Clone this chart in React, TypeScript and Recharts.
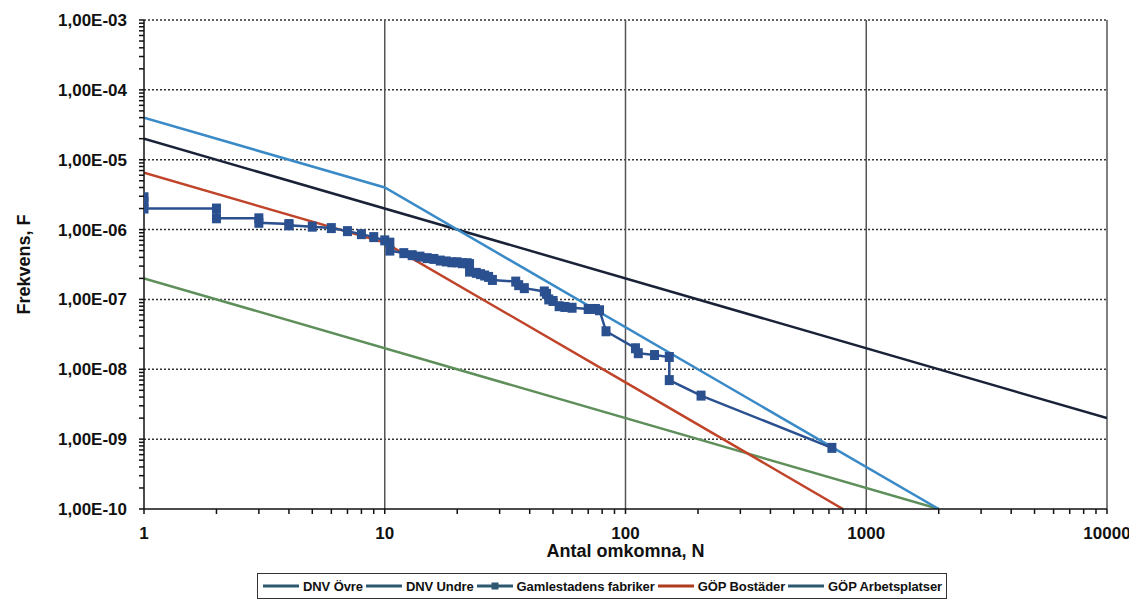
import { LineChart, Line, XAxis, YAxis, ReferenceLine } from "recharts"

// F-N curves (log-log)
const dnvOvreN = [1, 10000]
const dnvOvreF = [2e-5, 2e-9]

const dnvUndreN = [1, 2000]
const dnvUndreF = [2e-7, 1e-10]

const gopBostaderN = [1, 10, 100, 800]
const gopBostaderF = [6.5e-6, 6.5e-7, 6.5e-9, 1e-10]

const gopArbetsN = [1, 10, 2000]
const gopArbetsF = [4e-5, 4e-6, 1e-10]

const gamlestadenN = [
  1, 1, 1, 2, 2, 3, 3, 4, 4, 5, 6, 7, 8, 9, 10, 10.5, 10.5, 12, 13, 14, 15, 16, 17, 18, 19, 20, 21, 22,
  22.5, 22.5, 24, 25, 26, 27, 28, 35, 36, 38, 46, 47, 48, 50, 53, 56, 60, 70, 75, 78, 83, 110, 113, 132,
  152, 152, 206, 720,
]
const gamlestadenF = [
  2.9e-6, 2.5e-6, 2.0e-6, 2.0e-6, 1.45e-6, 1.45e-6, 1.25e-6, 1.2e-6, 1.15e-6, 1.1e-6, 1.05e-6, 9.5e-7,
  8.6e-7, 7.8e-7, 7e-7, 6.5e-7, 5e-7, 4.6e-7, 4.3e-7, 4.1e-7, 3.9e-7, 3.8e-7, 3.6e-7, 3.5e-7, 3.4e-7,
  3.4e-7, 3.3e-7, 3.3e-7, 3.2e-7, 2.5e-7, 2.4e-7, 2.3e-7, 2.2e-7, 2.1e-7, 1.9e-7, 1.8e-7, 1.6e-7,
  1.45e-7, 1.3e-7, 1.2e-7, 1.0e-7, 9.5e-8, 8e-8, 7.8e-8, 7.6e-8, 7.3e-8, 7.3e-8, 7e-8, 3.5e-8, 2.0e-8,
  1.7e-8, 1.6e-8, 1.5e-8, 7e-9, 4.2e-9, 7.5e-10,
]

const xDecades = [1, 10, 100, 1000, 10000]
const yDecades = [1e-10, 1e-9, 1e-8, 1e-7, 1e-6, 1e-5, 1e-4, 1e-3]
const minorSteps = [2, 3, 4, 5, 6, 7, 8, 9]

const zip = (n: number[], f: number[]) => n.map((x, i) => ({ x, y: f[i] }))

const withMinors = (dec: number[]) => {
  const out: number[] = []
  dec.forEach((d, i) => {
    out.push(d)
    if (i < dec.length - 1) minorSteps.forEach((m) => out.push(d * m))
  })
  return out
}

const isDecade = (v: number) => Math.abs(Math.log10(v) - Math.round(Math.log10(v))) < 1e-6

const fmtY = (v: number) => {
  const e = Math.round(Math.log10(v))
  const s = String(Math.abs(e)).padStart(2, "0")
  return `1,00E${e < 0 ? "-" : "+"}${s}`
}

const FONT = "'Liberation Sans', Arial, sans-serif"

const XTick = ({ x, y, payload }: any) => {
  if (!isDecade(payload.value)) return null
  return (
    <text x={x} y={y + 23} textAnchor="middle" fontFamily={FONT} fontWeight="bold" fontSize={17} fill="#111">
      {payload.value}
    </text>
  )
}

const YTick = ({ x, y, payload }: any) => {
  if (!isDecade(payload.value)) return null
  return (
    <text x={x - 10} y={y + 6} textAnchor="end" fontFamily={FONT} fontWeight="bold" fontSize={17} fill="#111">
      {fmtY(payload.value)}
    </text>
  )
}

const SquareDot = ({ cx, cy }: any) => {
  if (cx == null || cy == null) return null
  return <rect x={cx - 4.5} y={cy - 5} width={9} height={10} fill="#2a5090" />
}

const legendItems = [
  { name: "DNV Övre", color: "#2d5870", marker: false },
  { name: "DNV Undre", color: "#2d5870", marker: false },
  { name: "Gamlestadens fabriker", color: "#2d5870", marker: true },
  { name: "GÖP Bostäder", color: "#b03a1e", marker: false },
  { name: "GÖP Arbetsplatser", color: "#2d5870", marker: false },
]

export default function App() {
  return (
    <div style={{ position: "relative", width: 1129, height: 594 }}>
      <LineChart width={1129} height={594} margin={{ top: 12, right: 30, bottom: 0, left: 0 }}>
        <XAxis
          dataKey="x"
          type="number"
          scale="log"
          domain={[1, 10000]}
          allowDataOverflow
          ticks={withMinors(xDecades)}
          interval={0}
          height={93}
          tickSize={5}
          tickMargin={2}
          tick={<XTick />}
          stroke="#111"
          strokeWidth={1.5}
          label={{
            content: ({ viewBox }: any) => (
              <text
                x={viewBox.x + viewBox.width / 2}
                y={viewBox.y + 48}
                textAnchor="middle"
                fontFamily={FONT}
                fontWeight="bold"
                fontSize={18}
                fill="#111"
              >
                Antal omkomna, N
              </text>
            ),
          }}
        />
        <YAxis
          type="number"
          scale="log"
          domain={[1e-10, 1e-3]}
          allowDataOverflow
          ticks={withMinors(yDecades)}
          interval={0}
          width={136}
          tickSize={5}
          tickMargin={2}
          tick={<YTick />}
          stroke="#111"
          strokeWidth={1.5}
          label={{
            content: ({ viewBox }: any) => {
              const cx = 22
              const cy = viewBox.y + viewBox.height / 2
              return (
                <text
                  x={cx}
                  y={cy}
                  transform={`rotate(-90 ${cx} ${cy})`}
                  textAnchor="middle"
                  fontFamily={FONT}
                  fontWeight="bold"
                  fontSize={18}
                  fill="#111"
                >
                  Frekvens, F
                </text>
              )
            },
          }}
        />
        {yDecades.slice(1).map((v) => (
          <ReferenceLine key={`h${v}`} y={v} stroke="#333" strokeDasharray="2 2" strokeWidth={1.5} ifOverflow="visible" />
        ))}
        {xDecades.slice(1).map((v) => (
          <ReferenceLine key={`v${v}`} x={v} stroke="#555" strokeWidth={1.5} ifOverflow="visible" />
        ))}
        <Line
          data={zip(dnvUndreN, dnvUndreF)}
          dataKey="y"
          name="DNV Undre"
          stroke="#5e8f5a"
          strokeWidth={2.5}
          dot={false}
          isAnimationActive={false}
        />
        <Line
          data={zip(gopBostaderN, gopBostaderF)}
          dataKey="y"
          name="GÖP Bostäder"
          stroke="#c0442a"
          strokeWidth={2.5}
          dot={false}
          isAnimationActive={false}
        />
        <Line
          data={zip(dnvOvreN, dnvOvreF)}
          dataKey="y"
          name="DNV Övre"
          stroke="#1a2238"
          strokeWidth={2.5}
          dot={false}
          isAnimationActive={false}
        />
        <Line
          data={zip(gopArbetsN, gopArbetsF)}
          dataKey="y"
          name="GÖP Arbetsplatser"
          stroke="#3a8ac8"
          strokeWidth={2.5}
          dot={false}
          isAnimationActive={false}
        />
        <Line
          data={zip(gamlestadenN, gamlestadenF)}
          dataKey="y"
          name="Gamlestadens fabriker"
          stroke="#2a5090"
          strokeWidth={2.5}
          dot={<SquareDot />}
          isAnimationActive={false}
        />
      </LineChart>
      <div
        style={{
          position: "absolute",
          left: 249,
          top: 565,
          width: 690,
          height: 26,
          border: "1.5px solid #333",
          boxSizing: "border-box",
          display: "flex",
          alignItems: "center",
          paddingLeft: 5,
          fontFamily: "'Liberation Sans Narrow', 'Arial Narrow', 'Liberation Sans', sans-serif",
          fontWeight: "bold",
          fontSize: 13,
          letterSpacing: -0.1,
          color: "#111",
          whiteSpace: "nowrap",
          overflow: "hidden",
        }}
      >
        {legendItems.map((it) => (
          <div key={it.name} style={{ display: "flex", alignItems: "center", marginRight: 3 }}>
            <svg width={36} height={10} style={{ marginRight: 4 }}>
              <line x1={0} y1={5} x2={36} y2={5} stroke={it.color} strokeWidth={3} />
              {it.marker && <rect x={14.5} y={1.5} width={7} height={7} fill={it.color} />}
            </svg>
            <span>{it.name}</span>
          </div>
        ))}
      </div>
    </div>
  )
}
